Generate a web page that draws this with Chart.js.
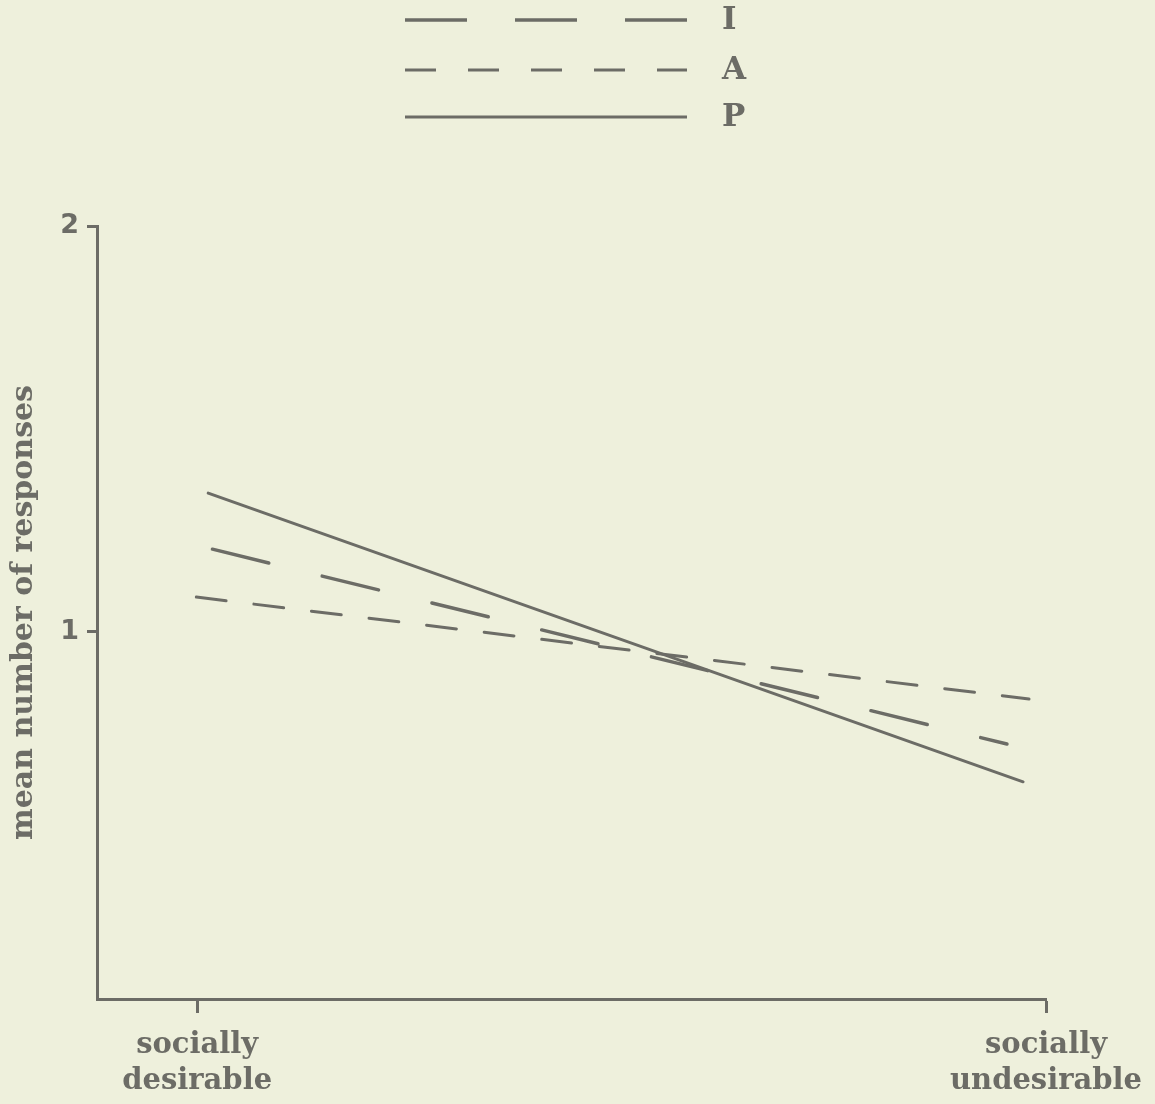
<!DOCTYPE html>
<html>
<head>
<meta charset="utf-8">
<script src="https://cdn.jsdelivr.net/npm/chart.js@4/dist/chart.umd.min.js"></script>
<style>
  html, body { margin: 0; padding: 0; background: #eef0dc; }
  #chart { display: block; }
</style>
</head>
<body>
<canvas id="chart" width="1155" height="1104"></canvas>
<script>
// values (x: 0 = socially desirable, 1 = socially undesirable)
const xLabels = [['socially', 'desirable'], ['socially', 'undesirable']];
const yTicks = [1, 2];
const seriesNames = ['I', 'A', 'P'];
const iX = [0.018, 0.954];
const iY = [1.204, 0.724];
const aX = [-0.001, 0.980];
const aY = [1.086, 0.835];
const pX = [0.013, 0.973];
const pY = [1.342, 0.631];

const ink = '#6c6c66';
const serif = '"DejaVu Serif", "Liberation Serif", serif';

function pts(xs, ys) {
  return xs.map((x, i) => ({ x: x, y: ys[i] }));
}

// legend drawn in the old print style: line sample on the left, letter on the right
const sideLegend = {
  id: 'sideLegend',
  afterDraw(chart) {
    const ctx = chart.ctx;
    const rows = [20, 70, 117];
    ctx.save();
    chart.data.datasets.forEach((ds, i) => {
      const y = rows[i];
      ctx.strokeStyle = ds.borderColor;
      ctx.lineWidth = ds.borderWidth;
      ctx.setLineDash(ds.legendDash || []);
      ctx.beginPath();
      ctx.moveTo(405, y);
      ctx.lineTo(687, y);
      ctx.stroke();
      ctx.setLineDash([]);
      ctx.fillStyle = ink;
      ctx.font = 'bold 31px ' + serif;
      ctx.textBaseline = 'middle';
      ctx.fillText(ds.label, 722, y + 1);
    });
    ctx.restore();
  }
};

new Chart(document.getElementById('chart'), {
  type: 'line',
  data: {
    datasets: [
      { label: seriesNames[0], data: pts(iX, iY), borderColor: ink, borderWidth: 3.5,
        borderDash: [58, 55], legendDash: [62, 48] },
      { label: seriesNames[1], data: pts(aX, aY), borderColor: ink, borderWidth: 3,
        borderDash: [30, 28], legendDash: [31, 32] },
      { label: seriesNames[2], data: pts(pX, pY), borderColor: ink, borderWidth: 3 }
    ]
  },
  options: {
    responsive: false,
    animation: false,
    layout: { padding: { top: 226, right: 109, bottom: 0, left: 0 } },
    elements: { point: { radius: 0 }, line: { tension: 0, borderCapStyle: 'round' } },
    plugins: { legend: { display: false }, tooltip: { enabled: false } },
    scales: {
      x: {
        type: 'linear',
        min: -0.118,
        max: 1,
        afterBuildTicks: s => { s.ticks = [{ value: 0 }, { value: 1 }]; },
        afterFit: s => { s.height = 105; s.paddingLeft = 0; s.paddingRight = 0; },
        ticks: {
          callback: v => xLabels[v],
          color: ink,
          font: { family: serif, size: 29, weight: 'bold', lineHeight: 1.25 },
          padding: 14,
          maxRotation: 0,
          autoSkip: false
        },
        grid: { drawOnChartArea: false, tickLength: 14, tickWidth: 3, tickColor: ink },
        border: { color: ink, width: 3 }
      },
      y: {
        min: 0.096,
        max: 2,
        afterBuildTicks: s => { s.ticks = yTicks.map(v => ({ value: v })); },
        afterFit: s => { s.width = 97; s.paddingTop = 0; s.paddingBottom = 0; },
        ticks: {
          color: ink,
          font: { family: '"DejaVu Sans", sans-serif', size: 27, weight: 'bold' },
          padding: 8
        },
        grid: { drawOnChartArea: false, tickLength: 10, tickWidth: 3, tickColor: ink },
        border: { color: ink, width: 3 },
        title: {
          display: true,
          text: 'mean number of responses',
          color: ink,
          font: { family: serif, size: 30, weight: 'bold' },
          padding: { top: 6, bottom: 0 }
        }
      }
    }
  },
  plugins: [sideLegend]
});
</script>
</body>
</html>
